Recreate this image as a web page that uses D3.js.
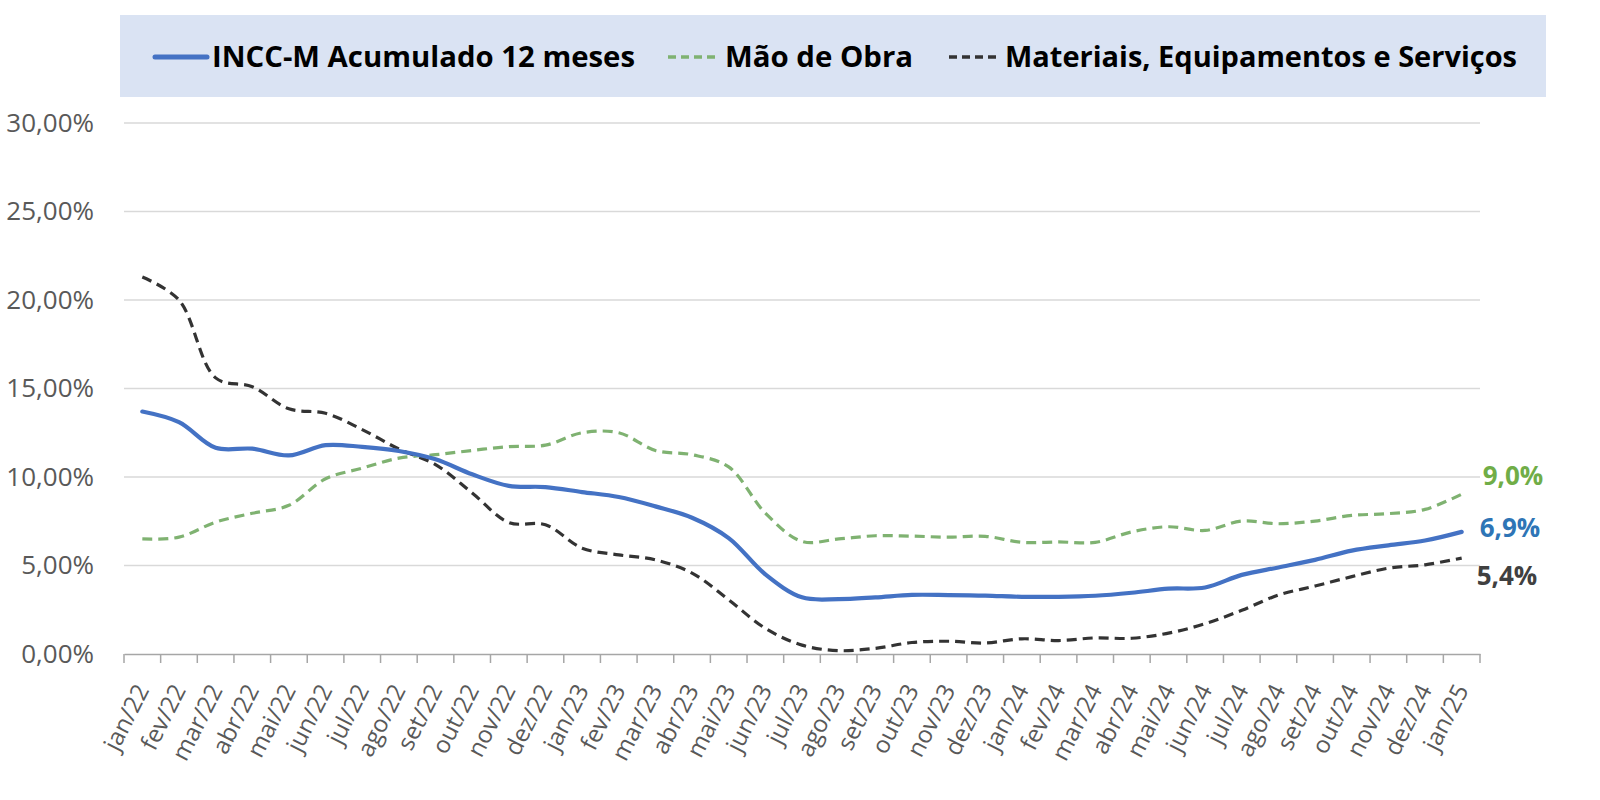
<!DOCTYPE html>
<html>
<head>
<meta charset="utf-8">
<script src="https://cdn.jsdelivr.net/npm/d3@7"></script>
<style>
  html, body { margin: 0; padding: 0; background: #ffffff; }
  svg { display: block; }
</style>
</head>
<body>
<svg id="chart" width="1600" height="800"></svg>
<script>
const categories = ["jan/22","fev/22","mar/22","abr/22","mai/22","jun/22","jul/22","ago/22","set/22","out/22","nov/22","dez/22",
  "jan/23","fev/23","mar/23","abr/23","mai/23","jun/23","jul/23","ago/23","set/23","out/23","nov/23","dez/23",
  "jan/24","fev/24","mar/24","abr/24","mai/24","jun/24","jul/24","ago/24","set/24","out/24","nov/24","dez/24","jan/25"];

const incc = [13.7,13.1,11.65,11.6,11.22,11.8,11.7,11.47,11.0,10.15,9.5,9.43,
  9.15,8.87,8.34,7.7,6.55,4.5,3.2,3.1,3.2,3.34,3.33,3.3,
  3.23,3.23,3.29,3.46,3.69,3.76,4.47,4.89,5.32,5.84,6.14,6.41,6.9];

const maoDeObra = [6.5,6.6,7.45,7.95,8.4,9.9,10.5,11.07,11.26,11.5,11.72,11.8,
  12.5,12.5,11.5,11.26,10.57,7.96,6.36,6.5,6.68,6.66,6.6,6.65,
  6.31,6.33,6.31,6.9,7.19,6.98,7.51,7.36,7.51,7.83,7.93,8.17,9.03];

const materiais = [21.3,20.0,15.6,15.1,13.85,13.6,12.68,11.58,10.7,9.1,7.43,7.3,
  5.98,5.6,5.32,4.57,3.06,1.45,0.5,0.19,0.32,0.65,0.72,0.62,
  0.86,0.76,0.91,0.89,1.18,1.71,2.47,3.33,3.84,4.37,4.85,5.04,5.42];

const yTicks = [0,5,10,15,20,25,30];
const seriesNames = ["INCC-M Acumulado 12 meses","Mão de Obra","Materiais, Equipamentos e Serviços"];
const endLabels = ["6,9%","9,0%","5,4%"];

const svg = d3.select("#chart");
const font = "'Open Sans', 'Noto Sans', sans-serif";

const x = d3.scaleBand().domain(categories).range([124, 1480]).padding(0);
const y = d3.scaleLinear().domain([0, 30]).range([654, 123]);
const cx = c => x(c) + x.bandwidth() / 2;

const loc = d3.formatLocale({decimal: ",", thousands: ".", grouping: [3], currency: ["R$", ""]});
const fmt = v => loc.format(".2f")(v) + "%";

// gridlines
svg.append("g").selectAll("line").data(yTicks.filter(t => t > 0)).join("line")
  .attr("x1", 124).attr("x2", 1480)
  .attr("y1", d => y(d)).attr("y2", d => y(d))
  .attr("stroke", "#d9d9d9").attr("stroke-width", 1.3);

// y axis labels
const yAxis = svg.append("g").attr("transform", "translate(124,0)")
  .call(d3.axisLeft(y).tickValues(yTicks).tickFormat(fmt).tickSize(0).tickPadding(30));
yAxis.select(".domain").remove();
yAxis.selectAll("text").attr("font-family", font).attr("font-size", 26).attr("fill", "#595959");

// x axis
const xAxis = svg.append("g").attr("transform", "translate(0,654)")
  .call(d3.axisBottom(x).tickSize(0).tickFormat(""));
xAxis.select(".domain").attr("stroke", "#a6a6a6").attr("stroke-width", 1.5);
const bounds = categories.map(c => x(c)).concat([x(categories[categories.length - 1]) + x.bandwidth()]);
svg.append("g").selectAll("line").data(bounds).join("line")
  .attr("x1", d => d).attr("x2", d => d).attr("y1", 654).attr("y2", 663)
  .attr("stroke", "#a6a6a6").attr("stroke-width", 1.5);
svg.append("g").selectAll("text").data(categories).join("text")
  .attr("transform", d => `translate(${cx(d)},${686}) rotate(-63)`)
  .attr("text-anchor", "end").attr("dy", "0.35em")
  .attr("font-family", font).attr("font-size", 24).attr("fill", "#595959")
  .text(d => d);

// lines
const line = d3.line().x((d, i) => cx(categories[i])).y(d => y(d)).curve(d3.curveCatmullRom.alpha(0.5));
svg.append("path").datum(maoDeObra).attr("d", line).attr("fill", "none")
  .attr("stroke", "#7fb271").attr("stroke-width", 3.2).attr("stroke-dasharray", "10,6");
svg.append("path").datum(materiais).attr("d", line).attr("fill", "none")
  .attr("stroke", "#333333").attr("stroke-width", 3.2).attr("stroke-dasharray", "10,6");
svg.append("path").datum(incc).attr("d", line).attr("fill", "none")
  .attr("stroke", "#4472c4").attr("stroke-width", 4.2).attr("stroke-linecap", "round");

// end labels
const last = categories[categories.length - 1];
const lx = cx(last);
svg.append("text").attr("x", lx + 18).attr("y", y(incc[incc.length - 1]) + 5)
  .attr("font-family", font).attr("font-weight", "bold").attr("font-size", 26).attr("fill", "#2e75b6")
  .text(endLabels[0]);
svg.append("text").attr("x", lx + 21).attr("y", y(maoDeObra[maoDeObra.length - 1]) - 9)
  .attr("font-family", font).attr("font-weight", "bold").attr("font-size", 26).attr("fill", "#70ad47")
  .text(endLabels[1]);
svg.append("text").attr("x", lx + 15).attr("y", y(materiais[materiais.length - 1]) + 27)
  .attr("font-family", font).attr("font-weight", "bold").attr("font-size", 26).attr("fill", "#404040")
  .text(endLabels[2]);

// legend
const lg = svg.append("g");
lg.append("rect").attr("x", 120).attr("y", 15).attr("width", 1426).attr("height", 82).attr("fill", "#dae3f3");
const legendItems = [
  {name: seriesNames[0], x1: 155, x2: 207, tx: 212, tw: 423, color: "#4472c4", dash: null, w: 5},
  {name: seriesNames[1], x1: 668, x2: 720, tx: 725, tw: 188, color: "#7fb271", dash: "8,5", w: 3.5},
  {name: seriesNames[2], x1: 949, x2: 1000, tx: 1005, tw: 512, color: "#333333", dash: "8,5", w: 3.5}
];
legendItems.forEach(it => {
  const l = lg.append("line").attr("x1", it.x1).attr("x2", it.x2).attr("y1", 57).attr("y2", 57)
    .attr("stroke", it.color).attr("stroke-width", it.w);
  if (it.dash) l.attr("stroke-dasharray", it.dash); else l.attr("stroke-linecap", "round");
  lg.append("text").attr("x", it.tx).attr("y", 67)
    .attr("font-family", font).attr("font-weight", "bold").attr("font-size", 29).attr("fill", "#000")
    .attr("textLength", it.tw).attr("lengthAdjust", "spacingAndGlyphs")
    .text(it.name);
});
</script>
</body>
</html>
